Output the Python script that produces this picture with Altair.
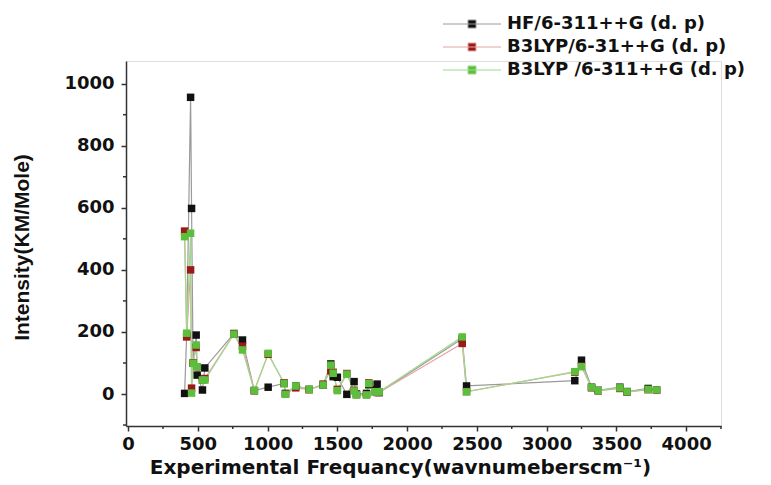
import altair as alt
import pandas as pd

# Experimental frequencies (cm-1), shared by all three series
freq = [405, 420, 448, 455, 466, 488, 495, 533, 550,
        758, 820, 905, 1004, 1118, 1128, 1202, 1298, 1398, 1453, 1470, 1500,
        1568, 1620, 1637, 1709, 1725, 1768, 1785, 1800,
        2395, 2426, 3202, 3250, 3322, 3370, 3525, 3577, 3728, 3788]
hf = [2, 190, 956, 598, 99, 190, 61, 13, 84,
      195, 174, 11, 22, 34, 2, 26, 15, 29, 97, 56, 54,
      -1, 40, 0, 2, 30, 13, 32, 5,
      178, 26, 43, 109, 22, 12, 22, 8, 18, 13]
b3_631 = [525, 184, 400, 19, 100, 150, 88, 45, 50,
          193, 154, 11, 128, 36, 0, 20, 14, 32, 75, 70, 15,
          66, 12, -2, -2, 36, 8, 5, 5,
          163, 8, 70, 90, 20, 10, 18, 6, 14, 12]
b3_6311 = [507, 196, 518, 3, 99, 158, 88, 45, 45,
           193, 142, 11, 131, 34, -1, 26, 15, 29, 93, 67, 11,
           64, 10, -3, -3, 34, 7, 7, 7,
           184, 7, 72, 88, 22, 11, 20, 7, 15, 13]

series_names = ["HF/6-311++G (d. p)", "B3LYP/6-31++G (d. p)", "B3LYP /6-311++G (d. p)"]
dark = ["#111111", "#9a1a1a", "#5cbf3c"]
light = ["#9a9a9a", "#e6a3a3", "#9fd98c"]

x_major = [0, 500, 1000, 1500, 2000, 2500, 3000, 3500, 4000]
x_minor = [250, 750, 1250, 1750, 2250, 2750, 3250, 3750, 4250]
y_major = [0, 200, 400, 600, 800, 1000]
y_minor = [-100, 100, 300, 500, 700, 900]

rows = []
for name, ys in zip(series_names, [hf, b3_631, b3_6311]):
    for f, v in zip(freq, ys):
        rows.append({"freq": f, "inten": v, "series": name})
df = pd.DataFrame(rows)

W, H = 595, 365
xscale = alt.Scale(domain=[-15, 4250], nice=False, zero=False)
yscale = alt.Scale(domain=[-103, 1073], nice=False, zero=False)

FONT = "DejaVu Sans"

legend_kw = dict(
    orient="none", legendX=337, legendY=-46, title=None,
    symbolType="M-7.25,0H7.25M-1,-1H1V1H-1Z", symbolSize=64, symbolStrokeWidth=1,
    labelFont=FONT, labelFontSize=18, labelFontWeight="bold", labelColor="#111111",
    labelOffset=26, rowPadding=5, padding=0, labelLimit=400,
)

xaxis = alt.Axis(
    values=x_major, format="d", grid=False, labelOverlap=False,
    labelFont=FONT, labelFontSize=18, labelFontWeight="bold", labelColor="#111111",
    labelPadding=4, tickSize=5, tickWidth=1.5, tickColor="#333333",
    domainWidth=1.5, domainColor="#333333",
    title="Experimental Frequancy(wavnumeberscm\u207b\u00b9)",
    titleFont=FONT, titleFontSize=20, titleFontWeight="bold", titleColor="#111111",
    titleX=274, titleY=41, titleAlign="center", titleBaseline="middle",
)
yaxis = alt.Axis(
    values=y_major, format="d", grid=False, labelOverlap=False,
    labelFont=FONT, labelFontSize=18, labelFontWeight="bold", labelColor="#111111",
    labelPadding=7, tickSize=5, tickWidth=1.5, tickColor="#333333",
    domainWidth=1.5, domainColor="#333333",
    title="Intensity(KM/Mole)",
    titleFont="Liberation Sans", titleFontSize=21, titleFontWeight="bold", titleColor="#111111",
    titleX=-104, titleY=186, titleAngle=270, titleAlign="center", titleBaseline="middle",
)

base = alt.Chart(df)
lines = base.mark_line(strokeWidth=1.2).encode(
    x=alt.X("freq:Q", scale=xscale, axis=xaxis),
    y=alt.Y("inten:Q", scale=yscale, axis=yaxis),
    stroke=alt.Stroke("series:N", scale=alt.Scale(domain=series_names, range=light),
                      legend=alt.Legend(**legend_kw)),
)
points = base.mark_square(size=56, filled=True, opacity=1).encode(
    x=alt.X("freq:Q", scale=xscale),
    y=alt.Y("inten:Q", scale=yscale),
    fill=alt.Fill("series:N", scale=alt.Scale(domain=series_names, range=dark),
                  legend=alt.Legend(**legend_kw)),
)

xminor = alt.Chart(pd.DataFrame({"v": x_minor})).mark_rule(color="#333333", strokeWidth=1.5).encode(
    x=alt.X("v:Q", scale=xscale), y=alt.value(H), y2=alt.value(H + 3))
yminor = alt.Chart(pd.DataFrame({"v": y_minor})).mark_rule(color="#333333", strokeWidth=1.5).encode(
    y=alt.Y("v:Q", scale=yscale), x=alt.value(0), x2=alt.value(-3))

chart = alt.layer(lines, points, xminor, yminor).properties(
    width=W, height=H,
    autosize=alt.AutoSizeParams(type="none"),
    padding={"left": 126, "top": 61, "right": 50, "bottom": 59},
).configure_view(stroke=None).configure(background="white")

chart.save("out.html", embed_options={"renderer": "svg", "actions": False})
